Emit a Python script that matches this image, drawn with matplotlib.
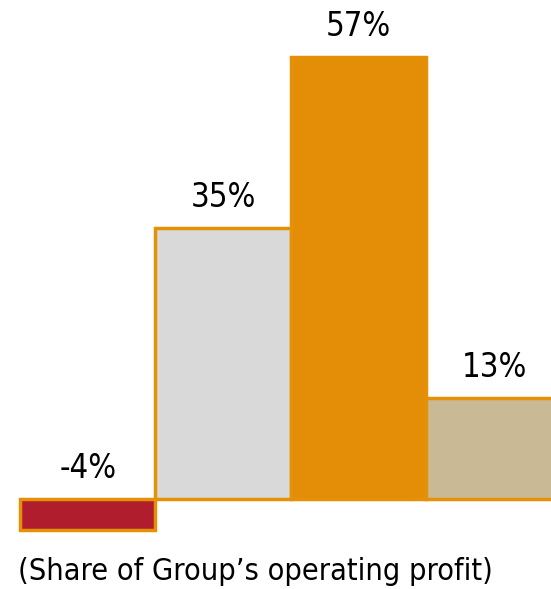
import matplotlib.pyplot as plt

# Data
segments = ['A', 'B', 'C', 'D']
shares = [-4, 35, 57, 13]
labels = ['-4%', '35%', '57%', '13%']
colors = ['#B01E2D', '#D9D9D9', '#E38E06', '#C9B994']
edge = '#E59107'

plt.rcParams['font.family'] = ['DejaVu Sans']
plt.rcParams['font.stretch'] = 'condensed'

fig = plt.figure(figsize=(5.51, 5.89), dpi=100)
ax = fig.add_axes([0, 0, 1, 1])

x = range(len(shares))
ax.bar(x, shares, width=1.0, color=colors, edgecolor=edge, linewidth=2.5)

for i, (v, lab) in enumerate(zip(shares, labels)):
    y = max(v, 0)
    ax.annotate(lab, (i, y), xytext=(0, 10), textcoords='offset points',
                ha='center', va='bottom', fontsize=23.5)

ax.text(1.24, -9.3, '(Share of Group\u2019s operating profit)', ha='center', va='center',
        fontsize=22)

ax.set_xlim(-0.648, 3.42)
ax.set_ylim(-11.6, 64.4)
ax.axis('off')

plt.savefig('out.png', dpi=100)
